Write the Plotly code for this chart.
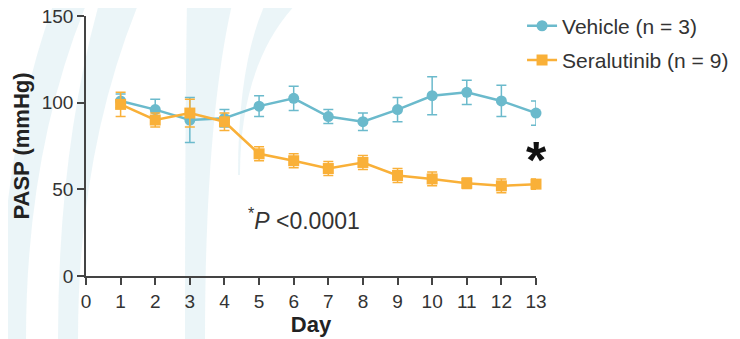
import plotly.graph_objects as go

days = list(range(1, 14))
vehicle = [101, 96, 90, 91, 98, 102.5, 92, 89, 96, 104, 106, 101, 94]
vehicle_err = [4, 6, 13, 5, 6, 7, 4, 5, 7, 11, 7, 9, 7]
seralutinib = [99, 90, 94, 89, 70.5, 66.5, 62, 65.5, 58, 56, 53.5, 52, 53]
seralutinib_err = [7, 4, 8, 5, 4, 4, 4, 4, 4, 4, 3, 4, 3]
x_ticks = list(range(0, 14))
y_ticks = [0, 50, 100, 150]

TEAL = "#6bbacc"
ORANGE = "#f9b038"
FONT = "Liberation Sans"

fig = go.Figure()
fig.add_trace(go.Scatter(
    x=days, y=vehicle, name="Vehicle (n = 3)", mode="lines+markers",
    line=dict(color=TEAL, width=2.5),
    marker=dict(symbol="circle", size=11, color=TEAL),
    error_y=dict(type="data", array=vehicle_err, color=TEAL, thickness=1.5, width=5),
    cliponaxis=False, legendgroup="a",
))
fig.add_trace(go.Scatter(
    x=days, y=seralutinib, name="Seralutinib (n = 9)", mode="lines+markers",
    line=dict(color=ORANGE, width=2.5),
    marker=dict(symbol="square", size=11, color=ORANGE),
    error_y=dict(type="data", array=seralutinib_err, color=ORANGE, thickness=1.5, width=5),
    cliponaxis=False, legendgroup="b",
))

# page has an 8px body margin: figure is offset by (8, 8)
OFF = 8
W, H = 740 - OFF, 339 - OFF
L, T = 86 - OFF, 16 - OFF
PW, PH = 450, 260
R = W - L - PW
B = H - T - PH

# decorative background bands (page pixel -> paper)
def px(x):
    return (x - 86) / PW
def py(y):
    return (276 - y) / PH

def band(xb0, xb1, xt0, xt1, yc=150, ytop=0, ybot=339):
    return (f"M {px(xb0)} {py(ybot)} Q {px(xb0)} {py(yc)} {px(xt0)} {py(ytop)} "
            f"L {px(xt1)} {py(ytop)} Q {px(xb1)} {py(yc)} {px(xb1)} {py(ybot)} Z")

bands = [
    band(0, 26, 55, 88),
    band(58, 78, 100, 140),
    band(185, 205, 187, 233, yc=120),
    band(238, 240, 267, 300, yc=60, ybot=175),
]
shapes = [dict(type="path", path=p, xref="paper", yref="paper", layer="below",
               fillcolor="rgba(190,222,232,0.3)", line=dict(width=0)) for p in bands]

fig.update_layout(
    width=W, height=H,
    margin=dict(l=L, r=R, t=T, b=B, autoexpand=False),
    paper_bgcolor="white", plot_bgcolor="rgba(0,0,0,0)",
    font=dict(family=FONT, color="#333333", size=19),
    shapes=shapes,
    showlegend=True,
    legend=dict(x=0.969, y=1.04, xanchor="left", yanchor="top",
                font=dict(size=21, family=FONT, color="#333333"),
                traceorder="grouped", tracegroupgap=4,
                bgcolor="rgba(0,0,0,0)", itemwidth=30),
    xaxis=dict(range=[0, 13], tickvals=x_ticks, ticks="outside", ticklen=7,
               tickwidth=1.5, tickcolor="#444", showline=True, linecolor="#444",
               linewidth=1.5, showgrid=False, zeroline=False, automargin=False,
               tickfont=dict(size=19), ticklabeloverflow="allow",
               title=dict(text="<b>Day</b>", font=dict(size=22, color="#222"), standoff=6)),
    yaxis=dict(range=[0, 150], tickvals=y_ticks, ticks="outside", ticklen=7,
               tickwidth=1.5, tickcolor="#444", showline=True, linecolor="#444",
               linewidth=1.5, showgrid=False, zeroline=False, automargin=False,
               tickfont=dict(size=19), ticklabeloverflow="allow",
               title=dict(text="<b>PASP (mmHg)</b>", font=dict(size=22, color="#222"), standoff=6)),
    annotations=[
        dict(x=6.31, y=33, xref="x", yref="y", showarrow=False,
             text="<sup>*</sup><i>P</i> &lt;0.0001", font=dict(size=23, color="#333")),
        dict(x=13, y=67, xref="x", yref="y", showarrow=False,
             text="<b>*</b>", font=dict(size=52, color="#111")),
    ],
)

fig.write_html("out.html")
